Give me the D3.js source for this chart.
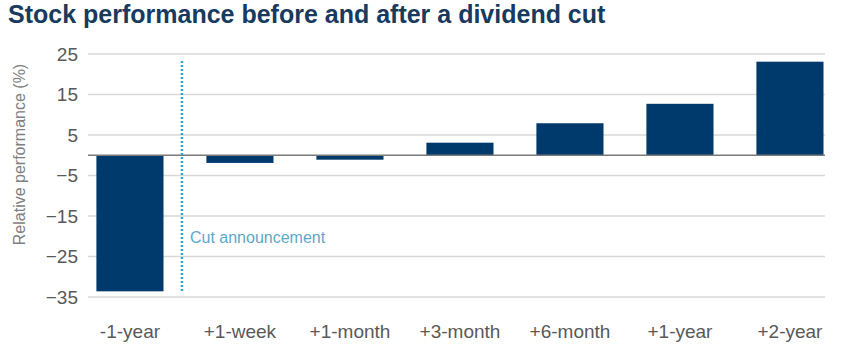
<!DOCTYPE html>
<html>
<head>
<meta charset="utf-8">
<script src="https://cdn.jsdelivr.net/npm/d3@7"></script>
<style>
  html, body { margin: 0; padding: 0; background: #ffffff; }
  svg { display: block; }
</style>
</head>
<body>
<svg id="chart" width="844" height="357"></svg>
<script>
// ---- data ----
const categories = ["-1-year", "+1-week", "+1-month", "+3-month", "+6-month", "+1-year", "+2-year"];
const values = [-33.6, -1.9, -1.1, 3.1, 7.9, 12.7, 23.1];
const yTicks = [-35, -25, -15, -5, 5, 15, 25];
const yDomain = [-35, 25];
const cutLabel = "Cut announcement";
const cutLineExtent = [-33.5, 23.3];
const titleText = "Stock performance before and after a dividend cut";
const yTitleText = "Relative performance (%)";

// ---- layout ----
const plotLeft = 88, plotRight = 825;
const svg = d3.select("#chart");

const x = d3.scaleBand()
  .domain(categories)
  .range([75.5, 844.4])
  .paddingInner(0.39)
  .paddingOuter(0.19);

const y = d3.scaleLinear()
  .domain(yDomain)
  .range([297, 54]);

const labelFont = "'Liberation Sans', Arial, sans-serif";

// title
svg.append("text")
  .attr("x", 8)
  .attr("y", 23)
  .attr("font-family", labelFont)
  .attr("font-weight", "bold")
  .attr("font-size", 25)
  .attr("fill", "#173a5e")
  .text(titleText);

// gridlines
svg.append("g")
  .selectAll("line")
  .data(yTicks)
  .join("line")
  .attr("x1", plotLeft)
  .attr("x2", plotRight)
  .attr("y1", d => y(d))
  .attr("y2", d => y(d))
  .attr("stroke", "#d9d9d9")
  .attr("stroke-width", 1.5);

// bars
svg.append("g")
  .selectAll("rect")
  .data(categories.map((c, i) => ({ c, v: values[i] })))
  .join("rect")
  .attr("x", d => x(d.c))
  .attr("width", x.bandwidth())
  .attr("y", d => y(Math.max(0, d.v)))
  .attr("height", d => Math.abs(y(d.v) - y(0)))
  .attr("fill", "#003a6c");

// zero line
svg.append("line")
  .attr("x1", plotLeft)
  .attr("x2", plotRight)
  .attr("y1", y(0))
  .attr("y2", y(0))
  .attr("stroke", "#7a7a7a")
  .attr("stroke-width", 1.5);

// y axis
const yAxis = svg.append("g")
  .attr("transform", `translate(${plotLeft},0)`)
  .call(d3.axisLeft(y).tickValues(yTicks).tickSize(0).tickPadding(10).tickFormat(d3.format("d")));
yAxis.select(".domain").remove();
yAxis.selectAll("text")
  .attr("font-family", labelFont)
  .attr("font-size", 19)
  .attr("fill", "#595959");

// x axis
const xAxis = svg.append("g")
  .attr("transform", `translate(0,${y(yDomain[0])})`)
  .call(d3.axisBottom(x).tickSize(0).tickPadding(28));
xAxis.select(".domain").remove();
xAxis.selectAll("text")
  .attr("font-family", labelFont)
  .attr("font-size", 19)
  .attr("fill", "#595959");

// y title
svg.append("text")
  .attr("transform", `translate(25,${(y(yDomain[0]) + 8) / 2 + 2}) rotate(-90)`)
  .attr("text-anchor", "middle")
  .attr("font-family", labelFont)
  .attr("font-size", 16)
  .attr("fill", "#808080")
  .text(yTitleText);

// cut announcement line (in the gap between the first two bars)
const gap = x.step() - x.bandwidth();
const cutX = x(categories[0]) + x.bandwidth() + gap * 0.43;
svg.append("line")
  .attr("x1", cutX)
  .attr("x2", cutX)
  .attr("y1", y(cutLineExtent[1]))
  .attr("y2", y(cutLineExtent[0]))
  .attr("stroke", "#2aaac9")
  .attr("stroke-width", 2.5)
  .attr("stroke-dasharray", "2,2");

svg.append("text")
  .attr("x", cutX + 8)
  .attr("y", 243)
  .attr("font-family", labelFont)
  .attr("font-size", 16)
  .attr("fill", "#5ea8c9")
  .text(cutLabel);
</script>
</body>
</html>
